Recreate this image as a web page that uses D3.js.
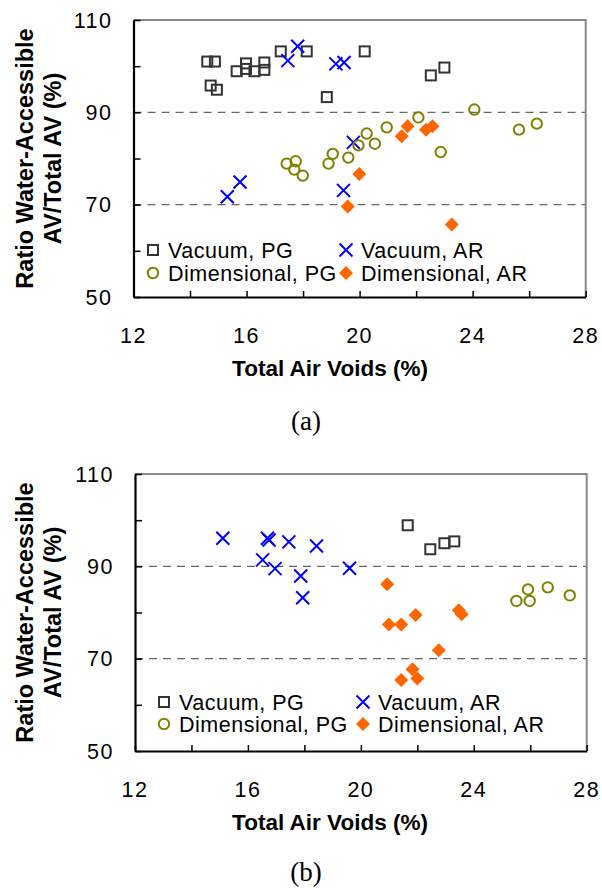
<!DOCTYPE html>
<html>
<head>
<meta charset="utf-8">
<script src="https://cdn.jsdelivr.net/npm/d3@7/dist/d3.min.js"></script>
<style>
  html, body { margin: 0; padding: 0; background: #fff; }
  svg { display: block; }
</style>
</head>
<body>
<svg id="chart" width="602" height="888"></svg>
<script>
// Axis settings shared by both panels
const xDomain = [12, 28];
const yDomain = [50, 110];
const xTickValues = [12, 14, 16, 18, 20, 22, 24, 26, 28];
const xTickLabels = [12, 16, 20, 24, 28];
const yTickValues = [50, 60, 70, 80, 90, 100, 110];
const yTickLabels = [50, 70, 90, 110];
const gridValues = [70, 90];

const seriesNames = ["Vacuum, PG", "Vacuum, AR", "Dimensional, PG", "Dimensional, AR"];

// Panel (a): [total air voids %, water-accessible ratio %]
const aVacuumPG = [
  [14.61, 101.0], [14.88, 101.0], [14.73, 95.8], [14.95, 94.9], [15.65, 98.9],
  [15.98, 100.6], [15.98, 99.4], [16.28, 98.9], [16.63, 100.8], [16.63, 99.2],
  [17.21, 103.2], [18.13, 103.2], [18.84, 93.3], [20.18, 103.2], [22.52, 98.0],
  [23.0, 99.7]
];
const aVacuumAR = [
  [17.81, 104.3], [17.46, 101.2], [19.16, 100.5], [19.45, 100.8], [19.78, 83.5],
  [15.32, 71.7], [15.77, 74.9], [19.43, 73.1]
];
const aDimensionalPG = [
  [17.42, 78.9], [17.74, 79.4], [17.69, 77.6], [17.99, 76.3], [18.9, 78.9],
  [19.05, 81.0], [19.6, 80.2], [19.96, 82.85], [20.25, 85.4], [20.54, 83.2],
  [20.96, 86.75], [22.08, 88.9], [22.87, 81.4], [24.06, 90.6], [25.64, 86.25],
  [26.27, 87.55]
];
const aDimensionalAR = [
  [21.7, 87.0], [21.49, 84.8], [22.35, 86.25], [22.58, 87.0], [19.99, 76.65],
  [19.58, 69.6], [23.26, 65.7]
];

// Panel (b)
const bVacuumPG = [[21.66, 98.9], [22.46, 93.7], [22.96, 95.0], [23.31, 95.4]];
const bVacuumAR = [
  [15.11, 96.07], [16.69, 96.07], [16.75, 95.7], [16.52, 91.4], [16.96, 89.5],
  [17.45, 95.3], [18.43, 94.4], [17.87, 87.9], [17.94, 83.2], [19.6, 89.6]
];
const bDimensionalPG = [[25.51, 82.5], [25.92, 85.0], [25.98, 82.5], [26.62, 85.45], [27.4, 83.7]];
const bDimensionalAR = [
  [20.93, 86.1], [21.94, 79.45], [23.47, 80.5], [23.57, 79.6], [20.99, 77.4],
  [21.43, 77.4], [22.76, 71.8], [21.83, 67.7], [21.43, 65.4], [22.0, 65.7]
];

const FONT = "'Liberation Sans', Arial, sans-serif";
const svg = d3.select("#chart");

// marker painters, each centred on (0,0)
const markers = {
  "Vacuum, PG": g => g.append("rect").attr("x", -5).attr("y", -5).attr("width", 10).attr("height", 10)
      .attr("fill", "none").attr("stroke", "#333").attr("stroke-width", 2),
  "Vacuum, AR": g => g.append("path").attr("d", "M-6.5,-6.5L6.5,6.5M-6.5,6.5L6.5,-6.5")
      .attr("fill", "none").attr("stroke", "#0000ff").attr("stroke-width", 2),
  "Dimensional, PG": g => g.append("circle").attr("r", 5.2)
      .attr("fill", "none").attr("stroke", "#808000").attr("stroke-width", 2),
  "Dimensional, AR": g => g.append("path").attr("d", "M0,-7L7,0L0,7L-7,0Z")
      .attr("fill", "#ff6600").attr("stroke", "none")
};

function drawPanel(cfg) {
  const x = d3.scaleLinear().domain(xDomain).range([cfg.left, cfg.right]);
  const y = d3.scaleLinear().domain(yDomain).range([cfg.bottom, cfg.top]);
  const g = svg.append("g");

  // dashed gridlines
  g.selectAll(".grid").data(gridValues).join("line")
    .attr("x1", cfg.left).attr("x2", cfg.right)
    .attr("y1", d => y(d)).attr("y2", d => y(d))
    .attr("stroke", "#666").attr("stroke-width", 1.2).attr("stroke-dasharray", "8,6");

  // top and right frame
  g.append("path")
    .attr("d", `M${cfg.left},${cfg.top}H${cfg.right}V${cfg.bottom}`)
    .attr("fill", "none").attr("stroke", "#888").attr("stroke-width", 2);

  // axes with inward ticks
  const xAxis = d3.axisBottom(x).tickValues(xTickValues).tickSizeInner(-6).tickSizeOuter(0).tickFormat("");
  const yAxis = d3.axisLeft(y).tickValues(yTickValues).tickSizeInner(-7).tickSizeOuter(0).tickFormat("");
  const gx = g.append("g").attr("transform", `translate(0,${cfg.bottom})`).call(xAxis);
  const gy = g.append("g").attr("transform", `translate(${cfg.left},0)`).call(yAxis);
  [gx, gy].forEach(a => {
    a.select(".domain").attr("stroke", "#000").attr("stroke-width", 2.2);
    a.selectAll(".tick line").attr("stroke", "#000").attr("stroke-width", 1.5);
  });

  // tick labels
  g.selectAll(".xl").data(xTickLabels).join("text")
    .attr("x", d => x(d)).attr("y", cfg.bottom + 46)
    .attr("text-anchor", "middle").attr("font-family", FONT).attr("font-size", 21.5)
    .attr("letter-spacing", 1.5).attr("fill", "#000").text(d => d);
  g.selectAll(".yl").data(yTickLabels).join("text")
    .attr("x", cfg.left - 21).attr("y", d => y(d) + 7.5)
    .attr("text-anchor", "end").attr("font-family", FONT).attr("font-size", 21.5)
    .attr("letter-spacing", 1.5).attr("fill", "#000").text(d => d);

  // axis titles
  g.append("text").attr("x", 330).attr("y", cfg.bottom + 79)
    .attr("text-anchor", "middle").attr("font-family", FONT).attr("font-size", 22.5)
    .attr("font-weight", "bold").text("Total Air Voids (%)");
  const cy = (cfg.top + cfg.bottom) / 2;
  const yt = g.append("text").attr("transform", `translate(33,${cy}) rotate(-90)`)
    .attr("text-anchor", "middle").attr("font-family", FONT).attr("font-size", 23.5)
    .attr("font-weight", "bold");
  yt.append("tspan").attr("x", 0).attr("y", 0).text("Ratio Water-Accessible");
  yt.append("tspan").attr("x", 0).attr("y", 28).text("AV/Total AV (%)");

  // data points
  cfg.series.forEach((pts, i) => {
    const name = seriesNames[i];
    g.selectAll(null).data(pts).join("g")
      .attr("transform", d => `translate(${x(d[0])},${y(d[1])})`)
      .each(function () { markers[name](d3.select(this)); });
  });

  // legend
  cfg.legend.forEach(([lx, ly], i) => {
    const name = seriesNames[i];
    const lg = g.append("g").attr("transform", `translate(${lx},${ly})`);
    markers[name](lg);
    lg.append("text").attr("x", 15).attr("y", 7.5).attr("font-family", FONT)
      .attr("font-size", 21.5).attr("letter-spacing", 0.5).text(name);
  });

  // caption
  svg.append("text").attr("x", 306).attr("y", cfg.caption)
    .attr("text-anchor", "middle").attr("font-family", "'Liberation Serif', 'Times New Roman', serif")
    .attr("font-size", 27).text(cfg.label);
}

drawPanel({
  left: 133.5, right: 585.7, top: 20, bottom: 297,
  series: [aVacuumPG, aVacuumAR, aDimensionalPG, aDimensionalAR],
  legend: [[153, 250], [346, 250], [153, 273], [346, 273]],
  caption: 430, label: "(a)"
});

drawPanel({
  left: 135, right: 586.7, top: 474, bottom: 751,
  series: [bVacuumPG, bVacuumAR, bDimensionalPG, bDimensionalAR],
  legend: [[164, 702], [363, 702], [164, 724], [363, 724]],
  caption: 881, label: "(b)"
});
</script>
</body>
</html>
